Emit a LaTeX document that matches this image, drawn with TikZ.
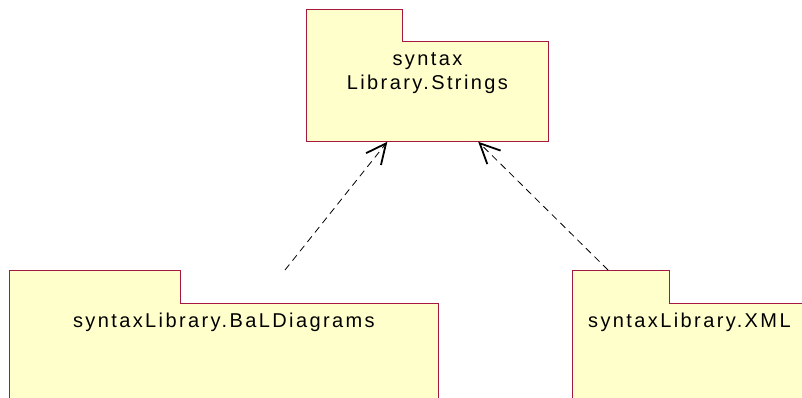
\documentclass[tikz,border=0pt]{standalone}
\usepackage{fontspec}
\setmainfont{Liberation Sans}[LetterSpace=12]
\usetikzlibrary{arrows.meta, positioning}
\definecolor{pkgfill}{RGB}{255, 255, 204}
\definecolor{pkgline}{RGB}{165, 25, 65}

\begin{document}
\begin{tikzpicture}[x=1pt, y=-1pt,
  pkg/.style={draw=pkgline, fill=pkgfill, line width=0.8pt, inner sep=0pt, anchor=north west},
  pkgtab/.style={fill=pkgfill, inner sep=0pt, anchor=south west},
  pkgname/.style={font=\fontsize{20}{24}\selectfont, align=center, anchor=north, inner sep=0pt},
  dep/.style={dash pattern=on 7pt off 5pt, line width=0.8pt, -{Straight Barb[length=20pt, width=19pt, line width=1.8pt]}}
]
  \useasboundingbox (0,0) rectangle (802,398);
  \clip (0,0) rectangle (802,398);

  % Package on top
  \node[pkg, minimum width=242, minimum height=100] (strings) at (306,41) {};
  \node[pkgtab, minimum width=96, minimum height=32] (stringstab) at ([yshift=-1pt]strings.north west) {};
  \draw[pkgline, line width=0.8pt] (stringstab.south west) |- (stringstab.north east) -- (stringstab.south east);
  \node[pkgname, below=11pt of strings.north] (stringsname) {syntax\\Library.Strings};

  % Packages below
  \node[pkg, minimum width=429, minimum height=120] (bal) at (9,303) {};
  \node[pkgtab, minimum width=171, minimum height=33] (baltab) at ([yshift=-1pt]bal.north west) {};
  \draw[pkgline, line width=0.8pt] (baltab.south west) |- (baltab.north east) -- (baltab.south east);
  \node[pkgname, below=10pt of bal.north] (balname) {syntaxLibrary.BaLDiagrams};

  \node[pkg, minimum width=234, minimum height=120] (xml) at (572,303) {};
  \node[pkgtab, minimum width=97, minimum height=33] (xmltab) at ([yshift=-1pt]xml.north west) {};
  \draw[pkgline, line width=0.8pt] (xmltab.south west) |- (xmltab.north east) -- (xmltab.south east);
  \node[pkgname, below=10pt of xml.north] (xmlname) {syntaxLibrary.XML};

  % Dependencies
  \coordinate (balfrom) at (285,270);
  \coordinate (xmlfrom) at (608,270);
  \draw[dep] (balfrom) -- (strings);
  \draw[dep] (xmlfrom) -- (strings);
\end{tikzpicture}
\end{document}
